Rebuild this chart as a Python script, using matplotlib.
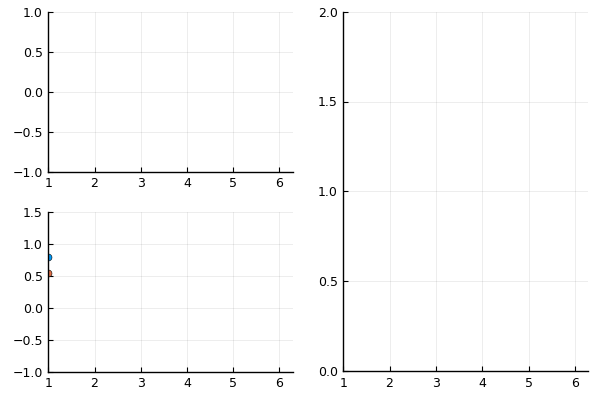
import numpy as np
import matplotlib
matplotlib.use("Agg")
import matplotlib.pyplot as plt

# data
x_points = [1.0, 1.0]
y_points = [0.785, 0.54]
point_colors = ["#009AFA", "#E26F46"]

xticks = [1, 2, 3, 4, 5, 6]
xlim = (1, 2 * np.pi)
top_yticks = [-1.0, -0.5, 0.0, 0.5, 1.0]
bottom_yticks = [-1.0, -0.5, 0.0, 0.5, 1.0, 1.5]
right_yticks = [0.0, 0.5, 1.0, 1.5, 2.0]

fig = plt.figure(figsize=(6, 4), dpi=100)
ax_tl = fig.add_axes([0.0805, 0.571, 0.407, 0.4])
ax_bl = fig.add_axes([0.0805, 0.0708, 0.407, 0.4])
ax_r = fig.add_axes([0.572, 0.072, 0.408, 0.899])


def style(ax, yticks):
    ax.set_xlim(*xlim)
    ax.set_ylim(yticks[0], yticks[-1])
    ax.set_xticks(xticks)
    ax.set_yticks(yticks)
    ax.set_yticklabels([f"{v:.1f}".replace("-", "\u2212") for v in yticks])
    ax.grid(True, color="black", alpha=0.1, linewidth=0.5)
    for s in ["top", "right"]:
        ax.spines[s].set_visible(False)
    for s in ["left", "bottom"]:
        ax.spines[s].set_linewidth(1.0)
        ax.spines[s].set_color("black")
        ax.spines[s].set_zorder(5)
    ax.tick_params(direction="in", length=3.5, width=0.8, labelsize=9, pad=4,
                   colors="black")
    ax.set_axisbelow(True)


style(ax_tl, top_yticks)
style(ax_bl, bottom_yticks)
style(ax_r, right_yticks)

for xv, yv, c in zip(x_points, y_points, point_colors):
    ax_bl.plot([xv], [yv], marker="o", markersize=5, color=c,
               markeredgecolor="black", markeredgewidth=0.4, linestyle="none",
               zorder=3)

fig.savefig("out.png", dpi=100)
